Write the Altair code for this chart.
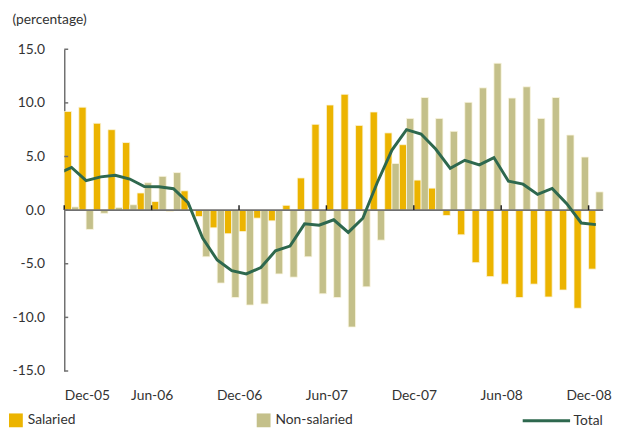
import json
import altair as alt
import pandas as pd

# ---- data ----
month_labels = ["Dec-05", "Jun-06", "Dec-06", "Jun-07", "Dec-07", "Jun-08", "Dec-08"]
tick_months = [0, 6, 12, 18, 24, 30, 36]
y_ticks = [-15, -10, -5, 0, 5, 10, 15]

salaried = [9.2, 9.6, 8.1, 7.5, 6.3, 1.6, 0.8, -0.1, 1.8, -0.6, -1.65, -2.2, -2.0,
            -0.75, -1.0, 0.45, 3.0, 8.0, 9.8, 10.8, 7.9, 9.15, 7.2, 6.1, 2.8, 2.05,
            -0.5, -2.3, -4.9, -6.2, -6.9, -8.15, -6.9, -8.1, -7.45, -9.15, -5.5]
non_salaried = [0.3, -1.8, -0.3, 0.25, 0.5, 2.55, 3.15, 3.5, 0.0, -4.35, -6.8, -8.15,
                -8.85, -8.75, -5.95, -6.25, -4.35, -7.8, -8.15, -10.9, -7.15, -2.8,
                4.35, 8.55, 10.5, 8.55, 7.35, 10.05, 11.4, 13.7, 10.45, 11.5, 8.55,
                10.5, 7.0, 4.95, 1.7]
total = [3.98, 2.75, 3.1, 3.25, 2.9, 2.2, 2.17, 2.0, 0.7, -2.6, -4.65, -5.65, -5.95,
         -5.35, -3.8, -3.35, -1.28, -1.4, -0.9, -2.08, -0.76, 2.6, 5.6, 7.5, 7.1,
         5.7, 3.9, 4.65, 4.22, 4.9, 2.7, 2.42, 1.47, 2.02, 0.6, -1.2, -1.35]
total_prev = 3.35  # Nov-05 value, clipped at the left edge

n = len(salaried)
bars = pd.DataFrame({
    "m": list(range(n)) * 2,
    "series": ["Salaried"] * n + ["Non-salaried"] * n,
    "value": salaried + non_salaried,
})
line_df = pd.DataFrame({
    "m": [-1] + list(range(n)),
    "value": [total_prev] + total,
    "series": ["Total"] * (n + 1),
})
ticks_df = pd.DataFrame({"t": tick_months})
yticks_df = pd.DataFrame({"v": y_ticks})
zero_df = pd.DataFrame({"v": [0]})

ORANGE = "#ECB400"
KHAKI = "#C4C08A"
GREEN = "#2E684E"
AXIS_GRAY = "#707070"
FONT = "Lato"

xscale = alt.Scale(domain=[0, n], nice=False, zero=False)
yscale = alt.Scale(domain=[-15, 15], nice=False, zero=False)

label_expr = json.dumps(month_labels) + "[round(datum.value / 6)]"

bar_layer = alt.Chart(bars).transform_calculate(
    x0="datum.m + (datum.series == 'Salaried' ? 0 : 0.5)",
    x1="datum.m + (datum.series == 'Salaried' ? 0.5 : 1)",
).mark_bar(stroke="#FBF6E0", strokeWidth=0.8).encode(
    x=alt.X("x0:Q", scale=xscale, axis=alt.Axis(
        values=tick_months, labelExpr=label_expr, domain=False, ticks=False,
        grid=False, labelFontSize=14, labelPadding=18, title=None,
        labelColor="#333333", labelFont=FONT)),
    x2="x1:Q",
    y=alt.Y("value:Q", scale=yscale, axis=alt.Axis(
        values=y_ticks, grid=False, ticks=False, tickSize=0,
        labelExpr="(datum.value < 0 ? '-' : '') + format(abs(datum.value), '.1f')",
        domainColor=AXIS_GRAY, domainWidth=1.5, labelPadding=20,
        labelFontSize=14, labelColor="#333333", labelFont=FONT,
        title="(percentage)", titleAngle=0, titleAlign="left",
        titleBaseline="top", titleX=-53, titleY=-37, titleFontWeight="normal",
        titleFontSize=14, titleFont=FONT, titleColor="#333333")),
    y2=alt.datum(0),
    color=alt.Color("series:N", scale=alt.Scale(
        domain=["Salaried", "Non-salaried"], range=[ORANGE, KHAKI]),
        legend=alt.Legend(orient="none", legendX=-56, legendY=369,
                          direction="horizontal", title=None, symbolType="square",
                          symbolSize=196, symbolStrokeWidth=0, labelFontSize=14,
                          labelFont=FONT, labelColor="#333333", columnPadding=183,
                          labelOffset=5)),
)

zero_layer = alt.Chart(zero_df).mark_rule(color=AXIS_GRAY, strokeWidth=2).encode(
    y=alt.Y("v:Q", scale=yscale),
    x=alt.value(0), x2=alt.value(546),
)

xtick_layer = alt.Chart(ticks_df).mark_rule(color="#222222", strokeWidth=1.5).encode(
    x=alt.X("t:Q", scale=xscale),
    y=alt.datum(0, scale=yscale),
    y2=alt.datum(0.45),
)

ytick_layer = alt.Chart(yticks_df).mark_rule(color=AXIS_GRAY, strokeWidth=1.5).encode(
    y=alt.Y("v:Q", scale=yscale),
    x=alt.value(0), x2=alt.value(4),
)

line_layer = alt.Chart(line_df).transform_calculate(
    xc="datum.m + 0.5"
).mark_line(clip=True, strokeWidth=3).encode(
    x=alt.X("xc:Q", scale=xscale),
    y=alt.Y("value:Q", scale=yscale),
    stroke=alt.Stroke("series:N", scale=alt.Scale(domain=["Total"], range=[GREEN]),
                      legend=alt.Legend(orient="none", legendX=463, legendY=351,
                                        title=None, symbolType="stroke",
                                        symbolSize=2304, symbolStrokeWidth=3,
                                        labelFontSize=14, labelFont=FONT,
                                        labelColor="#333333", labelOffset=2)),
)

chart = alt.layer(bar_layer, zero_layer, xtick_layer, ytick_layer, line_layer).properties(
    width=546, height=326,
    autosize=alt.AutoSizeParams(type="none"),
    padding={"left": 57, "top": 39, "right": 11, "bottom": 58},
    background="white",
).configure_view(stroke=None)

chart.save("out.html", embed_options={"renderer": "svg", "actions": False})
